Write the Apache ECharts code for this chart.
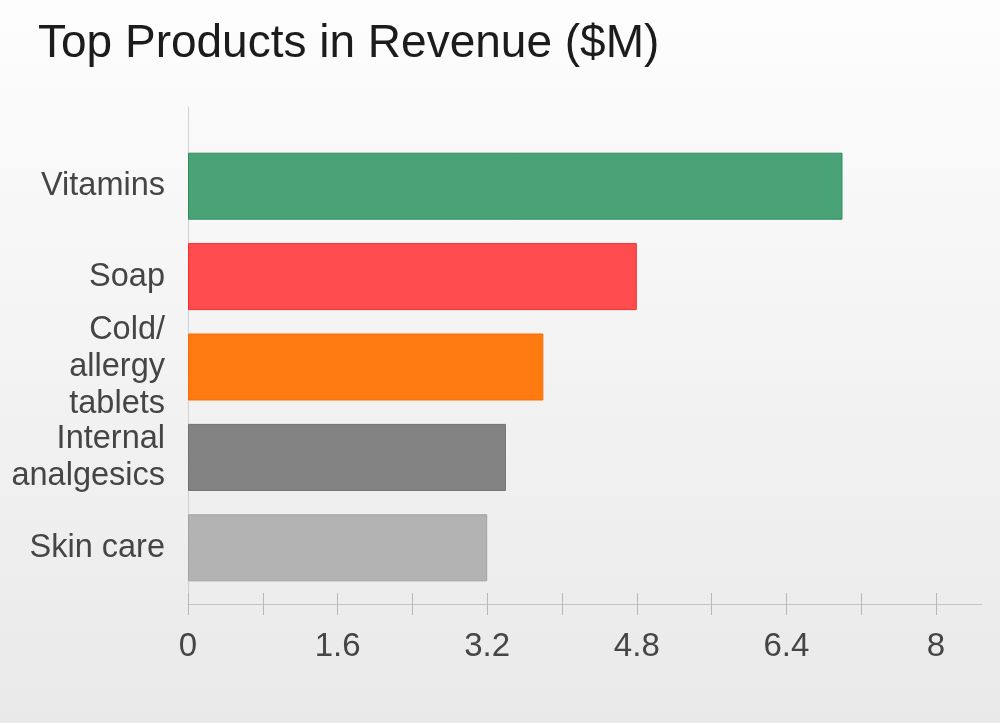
<!DOCTYPE html>
<html>
<head>
<meta charset="utf-8">
<script src="https://cdn.jsdelivr.net/npm/echarts@6/dist/echarts.min.js"></script>
<style>
html,body{margin:0;padding:0;}
#chart{width:1000px;height:723px;}
</style>
</head>
<body>
<div id="chart"></div>
<script>
const titleText = 'Top Products in Revenue ($M)';
const categories = ['Vitamins', 'Soap', 'Cold/\nallergy\ntablets', 'Internal\nanalgesics', 'Skin care'];
const revenue = [7.0, 4.8, 3.8, 3.4, 3.2];
const barColors = ['#4aa277', '#ff4c4f', '#ff7a10', '#838383', '#b3b3b3'];
const barBorders = ['#2f8d5d', '#ff2a2a', '#ff6a00', '#707070', '#a2a2a2'];
const xMin = 0, xMax = 8, xLabelStep = 1.6;

const FONT = "'Liberation Sans', Arial, sans-serif";
const chart = echarts.init(document.getElementById('chart'));
chart.setOption({
  animation: false,
  backgroundColor: {
    type: 'linear', x: 0, y: 0, x2: 0, y2: 1,
    colorStops: [{offset: 0, color: '#fdfdfd'}, {offset: 1, color: '#e9e9e9'}]
  },
  title: {
    text: titleText, left: 33, top: 16,
    textStyle: {fontFamily: FONT, fontSize: 46, fontWeight: 'normal', color: '#1c1c1c'}
  },
  grid: [
    {left: 188, width: 748, top: 141, height: 452},
    {left: 188, right: 18, top: 107, bottom: 119}
  ],
  xAxis: [
    {
      type: 'value', gridIndex: 0, min: xMin, max: xMax, interval: xLabelStep,
      axisLine: {show: false},
      axisTick: {show: true, length: 22, lineStyle: {color: '#b8b8b8', width: 1}},
      minorTick: {show: true, splitNumber: 2, length: 22, lineStyle: {color: '#b8b8b8', width: 1}},
      splitLine: {show: false},
      axisLabel: {margin: 37, fontFamily: FONT, fontSize: 33, color: '#454545'}
    },
    {
      type: 'value', gridIndex: 1, min: 0, max: 1,
      axisLine: {show: true, lineStyle: {color: '#c4c4c4', width: 1}},
      axisTick: {show: false}, axisLabel: {show: false}, splitLine: {show: false}
    }
  ],
  yAxis: [
    {
      type: 'category', gridIndex: 0, data: categories, inverse: true,
      axisLine: {show: false}, axisTick: {show: false},
      axisLabel: {margin: 23, fontFamily: FONT, fontSize: 32.5, color: '#454545', lineHeight: 37, align: 'right'}
    },
    {
      type: 'value', gridIndex: 1, min: 0, max: 1,
      axisLine: {show: true, lineStyle: {color: '#d0d0d0', width: 1}},
      axisTick: {show: false}, axisLabel: {show: false}, splitLine: {show: false}
    }
  ],
  series: [{
    type: 'bar', xAxisIndex: 0, yAxisIndex: 0,
    barWidth: 67,
    data: revenue.map((v, i) => ({
      value: v,
      itemStyle: {color: barColors[i], borderColor: barBorders[i], borderWidth: 1}
    }))
  }]
});
</script>
</body>
</html>
